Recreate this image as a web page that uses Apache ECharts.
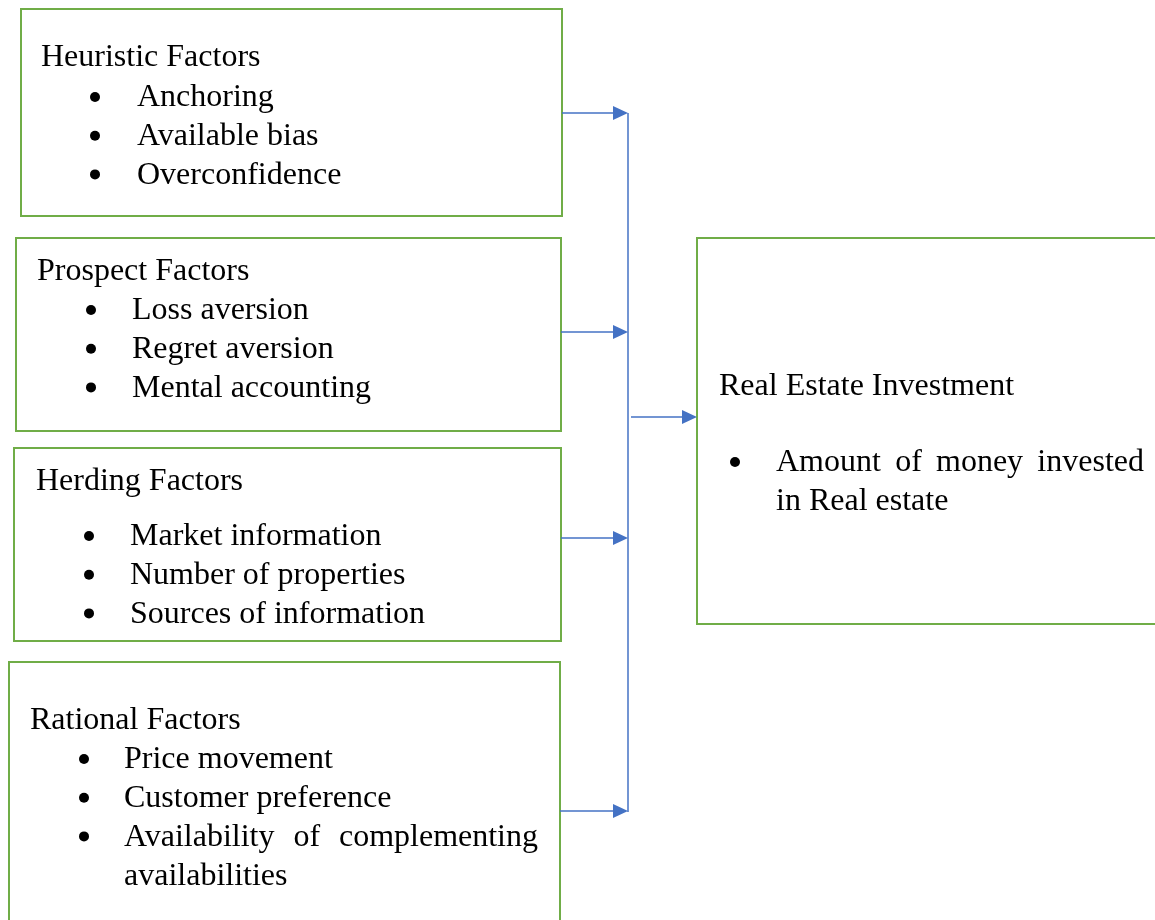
<!DOCTYPE html>
<html>
<head>
<meta charset="utf-8">
<script src="https://cdn.jsdelivr.net/npm/echarts@6/dist/echarts.min.js"></script>
<style>
html,body{margin:0;padding:0;background:#fff;}
#chart{width:1155px;height:920px;}
</style>
</head>
<body>
<div id="chart"></div>
<script>
// ---- content ----
const factorTitles = ['Heuristic Factors', 'Prospect Factors', 'Herding Factors', 'Rational Factors'];
const heuristicItems = ['Anchoring', 'Available bias', 'Overconfidence'];
const prospectItems = ['Loss aversion', 'Regret aversion', 'Mental accounting'];
const herdingItems = ['Market information', 'Number of properties', 'Sources of information'];
const rationalItems = ['Price movement', 'Customer preference', 'Availability of complementing availabilities'];
const factorItems = [heuristicItems, prospectItems, herdingItems, rationalItems];
const outcomeTitle = 'Real Estate Investment';
const outcomeItems = ['Amount of money invested in Real estate'];

// ---- layout (pixels) ----
const GREEN = '#70AD47', BLUE = '#4472C4', BLACK = '#000000';
const FONT_SIZE = 32;
const FONT_FAMILY = '"Liberation Serif", "Times New Roman", serif';
const LINE_H = 38.7;
const TEXT_DY = 3;
const factorBoxes = [
  {x0: 21, y0: 9,   x1: 562, y1: 216, titleX: 41, titleY: 55,  bulletX: 95, textX: 137, firstY: 95,  right: 545, arrowY: 113},
  {x0: 16, y0: 238, x1: 561, y1: 431, titleX: 37, titleY: 269, bulletX: 91, textX: 132, firstY: 308, right: 545, arrowY: 332},
  {x0: 14, y0: 448, x1: 561, y1: 641, titleX: 36, titleY: 479, bulletX: 89, textX: 130, firstY: 534, right: 545, arrowY: 538},
  {x0: 9,  y0: 662, x1: 560, y1: 930, titleX: 30, titleY: 718, bulletX: 84, textX: 124, firstY: 757, right: 538, arrowY: 811}
];
const outcomeBox = {x0: 697, y0: 238, x1: 1165, y1: 624, titleX: 719, titleY: 384, bulletX: 735, textX: 776, firstY: 460, right: 1144};
const busX = 628, busTop = 113, busBottom = 812;
const outArrow = {x0: 631, x1: 697, y: 417};
const ARROW_LEN = 15, ARROW_HALF = 7;

// ---- helpers ----
const mctx = document.createElement('canvas').getContext('2d');
mctx.font = FONT_SIZE + 'px ' + FONT_FAMILY;
const measure = s => mctx.measureText(s).width;

function textEl(str, x, y) {
  return {type: 'text', silent: true, style: {text: str, x: x, y: y + TEXT_DY, fill: BLACK,
    font: FONT_SIZE + 'px ' + FONT_FAMILY, textAlign: 'left', textVerticalAlign: 'middle', verticalAlign: 'middle'}};
}
function wrapWords(text, maxW) {
  const words = text.split(' ');
  const lines = []; let cur = [];
  words.forEach(w => {
    const test = cur.concat([w]).join(' ');
    if (cur.length && measure(test) > maxW) { lines.push(cur); cur = [w]; }
    else cur.push(w);
  });
  if (cur.length) lines.push(cur);
  return lines;
}
function itemEls(text, x, y, right) {
  const els = [];
  const lines = wrapWords(text, right - x);
  lines.forEach((words, li) => {
    const ly = y + li * LINE_H;
    const last = li === lines.length - 1;
    if (last || words.length < 2) { els.push(textEl(words.join(' '), x, ly)); return; }
    const total = words.reduce((s, w) => s + measure(w), 0);
    const gap = (right - x - total) / (words.length - 1);
    let cx = x;
    words.forEach(w => { els.push(textEl(w, cx, ly)); cx += measure(w) + gap; });
  });
  return {els: els, lines: lines.length};
}
function boxEls(b, title, items) {
  const els = [];
  els.push({type: 'rect', silent: true, shape: {x: b.x0, y: b.y0, width: b.x1 - b.x0, height: b.y1 - b.y0},
    style: {fill: '#fff', stroke: GREEN, lineWidth: 2}});
  els.push(textEl(title, b.titleX, b.titleY));
  let y = b.firstY;
  items.forEach(it => {
    els.push({type: 'circle', silent: true, shape: {cx: b.bulletX, cy: y + 2, r: 5}, style: {fill: BLACK}});
    const r = itemEls(it, b.textX, y, b.right);
    r.els.forEach(e => els.push(e));
    y += r.lines * LINE_H;
  });
  return els;
}
function arrowEls(x0, x1, y) {
  return [
    {type: 'line', silent: true, shape: {x1: x0, y1: y, x2: x1 - ARROW_LEN + 1, y2: y}, style: {stroke: BLUE, lineWidth: 1.5}},
    {type: 'polygon', silent: true, shape: {points: [[x1, y], [x1 - ARROW_LEN, y - ARROW_HALF], [x1 - ARROW_LEN, y + ARROW_HALF]]}, style: {fill: BLUE}}
  ];
}

// ---- build ----
let elements = [];
factorBoxes.forEach((b, i) => { elements = elements.concat(boxEls(b, factorTitles[i], factorItems[i])); });
elements = elements.concat(boxEls(outcomeBox, outcomeTitle, outcomeItems));
elements.push({type: 'line', silent: true, shape: {x1: busX, y1: busTop, x2: busX, y2: busBottom}, style: {stroke: BLUE, lineWidth: 1.5}});
factorBoxes.forEach(b => { elements = elements.concat(arrowEls(b.x1, busX, b.arrowY)); });
elements = elements.concat(arrowEls(outArrow.x0, outArrow.x1, outArrow.y));

const chart = echarts.init(document.getElementById('chart'), null, {renderer: 'canvas'});
chart.setOption({
  backgroundColor: '#ffffff',
  animation: false,
  graphic: {elements: elements}
});
</script>
</body>
</html>
